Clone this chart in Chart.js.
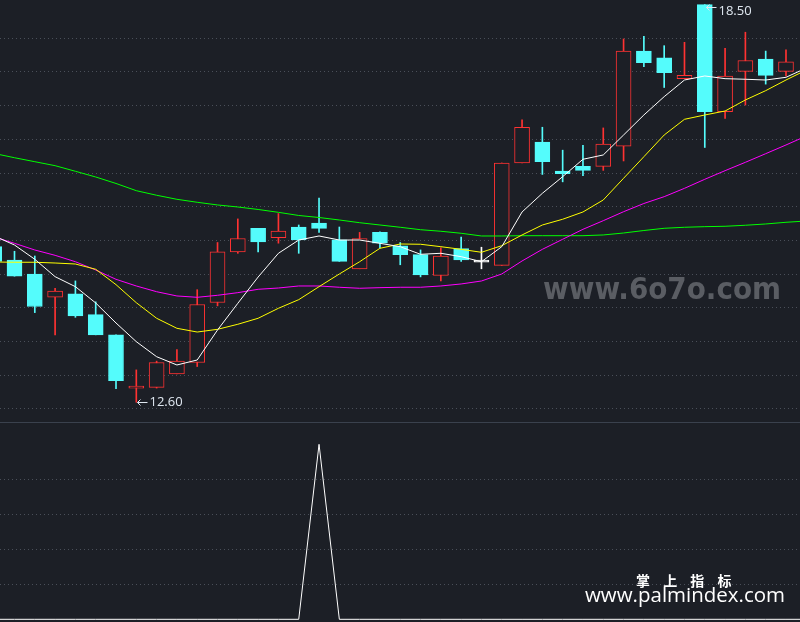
<!DOCTYPE html>
<html><head><meta charset="utf-8">
<script src="https://cdn.jsdelivr.net/npm/chart.js@4.4.1/dist/chart.umd.min.js"></script>
<style>
html,body{margin:0;padding:0;background:#1c1f26;width:800px;height:622px;overflow:hidden;}
#top{position:absolute;left:0;top:0;}
#bot{position:absolute;left:0;top:423px;}
#sep{position:absolute;left:0;top:422px;width:800px;height:1px;background:#3a414d;}
.wm{position:absolute;white-space:nowrap;transform-origin:0 0;}
#wm1{left:543px;top:274px;font:bold 30px "DejaVu Sans",sans-serif;line-height:30px;color:#5a5d63;}
#wm2{left:636px;top:573px;font:bold 14px "Noto Sans CJK SC",sans-serif;line-height:14px;color:#ffffff;letter-spacing:5px;}
#wm3{left:585px;top:585px;font:20px "Open Sans",sans-serif;line-height:20px;color:#ffffff;}
</style></head><body>
<canvas id="top" width="800" height="422"></canvas>
<div id="sep"></div>
<canvas id="bot" width="800" height="199"></canvas>
<div class="wm" id="wm1">www.6o7o.com</div>
<div class="wm" id="wm2">掌 上 指 标</div>
<div class="wm" id="wm3">www.palmindex.com</div>
<script>
// ---- data ----
const candleIdx = [-1,0,1,2,3,4,5,6,7,8,9,10,11,12,13,14,15,16,17,18,19,20,21,22,23,24,25,26,27,28,29,30,31,32,33,34,35,36,37,38];
const openP  = [14.91,14.71,14.50,14.16,14.21,13.90,13.60,12.81,12.82,13.02,13.19,14.08,14.83,15.18,15.04,15.20,15.26,15.01,14.58,15.12,14.92,14.79,14.48,14.88,14.68,14.63,16.15,16.46,16.03,16.10,16.10,16.40,17.81,17.71,17.40,18.50,16.91,17.51,17.69,17.51];
const highP  = [14.91,14.84,14.77,14.29,14.40,14.09,13.60,13.08,13.21,13.38,14.27,14.97,15.32,15.18,15.40,15.23,15.63,15.20,15.12,15.13,14.97,14.86,14.89,15.05,14.90,16.15,16.79,16.68,16.34,16.41,16.67,17.99,18.03,17.89,17.94,18.50,17.85,18.09,17.81,17.83];
const lowP   = [14.69,14.47,13.93,13.60,13.86,13.60,12.80,12.60,12.81,13.02,13.13,14.03,14.81,14.83,14.96,14.81,15.12,14.69,14.58,14.89,14.64,14.46,14.40,14.69,14.58,14.63,16.15,15.98,15.87,15.96,16.04,16.18,17.58,17.27,17.40,16.38,16.81,17.01,17.32,17.44];
const closeP = [14.69,14.47,14.02,14.25,13.88,13.60,12.92,12.83,13.19,13.21,14.05,14.83,15.03,14.98,15.14,15.01,15.18,14.69,15.03,14.96,14.79,14.49,14.77,14.71,14.68,16.15,16.68,16.17,15.99,16.04,16.43,17.81,17.64,17.49,17.45,16.91,17.44,17.67,17.45,17.65];

const lineIdx = [-1,0,1,2,3,4,5,6,7,8,9,10,11,12,13,14,15,16,17,18,19,20,21,22,23,24,25,26,27,28,29,30,31,32,33,34,35,36,37,38,39];
const ma5  = [15.067,14.933,14.721,14.463,14.315,14.073,13.776,13.499,13.276,13.153,13.227,13.672,14.068,14.458,14.810,15.007,15.067,15.007,15.007,14.958,14.908,14.795,14.810,14.760,14.685,14.908,15.423,15.700,15.947,16.205,16.269,16.565,16.862,17.134,17.381,17.441,17.401,17.392,17.381,17.421,17.559];
const ma10 = [14.681,14.677,14.677,14.666,14.651,14.573,14.345,14.077,13.846,13.697,13.642,13.682,13.757,13.846,13.994,14.122,14.315,14.503,14.685,14.884,14.948,14.944,14.908,14.869,14.825,14.923,15.082,15.230,15.315,15.423,15.601,15.923,16.243,16.565,16.798,16.862,16.921,17.085,17.223,17.381,17.530];
const ma20 = [15.052,14.958,14.859,14.780,14.685,14.562,14.424,14.325,14.240,14.177,14.157,14.187,14.226,14.276,14.295,14.325,14.325,14.306,14.291,14.300,14.306,14.306,14.325,14.355,14.399,14.503,14.696,14.869,15.018,15.166,15.294,15.427,15.549,15.650,15.774,15.908,16.036,16.160,16.288,16.417,16.550];
const ma60 = [16.291,16.228,16.169,16.110,16.027,15.942,15.846,15.739,15.671,15.611,15.567,15.527,15.497,15.460,15.418,15.371,15.341,15.304,15.264,15.230,15.196,15.160,15.137,15.107,15.067,15.067,15.071,15.071,15.071,15.071,15.082,15.111,15.148,15.181,15.196,15.205,15.211,15.226,15.245,15.270,15.289];

const signal = [0,0,0,0,0,0,0,0,0,0,0,0,0,0,0,0,5,0,0,0,0,0,0,0,0,0,0,0,0,0,0,0,0,0,0,0,0,0,0,0,0];

const topTicks = [12.5,13.0,13.5,14.0,14.5,15.0,15.5,16.0,16.5,17.0,17.5,18.0];
const botTicks = [1,2,3,4];

const extremeIdx  = [6, 34];
const extremeVal  = [12.60, 18.50];
const extremeText = ['12.60', '18.50'];

// ---- styling ----
const BG = '#1c1f26', RED = '#ff3232', CYAN = '#54fcfc', WHITE = '#ffffff';
const GRID = '#4a4f59';
const candleColor = openP.map((o,k)=> closeP[k] > o ? RED : (closeP[k] < o ? CYAN : WHITE));
const bodyFill = candleColor.map(c => c === RED ? BG : c);

const pts = (xs, ys) => xs.map((x,k)=>({x:x, y:ys[k]}));

const xScale = {type:'linear', min:-0.714, max:38.69, display:false, offset:false, grid:{offset:false}};

function yScale(min, max, ticks){
  return {
    type:'linear', min:min, max:max, display:true,
    ticks:{display:false},
    grid:{color:GRID, lineWidth:1, drawTicks:false},
    border:{display:false, dash:[1,3]},
    afterBuildTicks: s => { s.ticks = ticks.map(v=>({value:v})); },
    afterFit: s => { s.width = 0; }
  };
}

const hiloPlugin = {
  id:'hilo',
  afterDatasetsDraw(chart){
    const {ctx, scales:{x, y}} = chart;
    ctx.save();
    ctx.font = '13px "Open Sans", sans-serif';
    ctx.fillStyle = '#dfe7f0';
    ctx.strokeStyle = '#dfe7f0';
    ctx.lineWidth = 1;
    extremeIdx.forEach((ix, k) => {
      const px = Math.round(x.getPixelForValue(ix)) + 0.5;
      let py = y.getPixelForValue(extremeVal[k]);
      let ty = py;
      if (py < 10) { py = py + 2; ty = py + 4.5; }
      py = Math.round(py) + 0.5;
      ctx.beginPath();
      ctx.moveTo(px + 1, py); ctx.lineTo(px + 11, py);
      ctx.moveTo(px + 4, py - 3); ctx.lineTo(px + 1, py); ctx.lineTo(px + 4, py + 3);
      ctx.stroke();
      ctx.textBaseline = 'middle';
      ctx.textAlign = 'left';
      ctx.fillText(extremeText[k], px + 13, ty + 0.5);
    });
    ctx.restore();
  }
};

new Chart(document.getElementById('top'), {
  data:{
    datasets:[
      {type:'bar', data:candleIdx.map((i,k)=>({x:i, y:[lowP[k], highP[k]]})),
       backgroundColor:candleColor, barThickness:1, grouped:false, order:5},
      {type:'bar', data:candleIdx.map((i,k)=>({x:i, y:[openP[k], closeP[k]]})),
       backgroundColor:bodyFill, borderColor:candleColor, borderWidth:1, borderSkipped:false,
       barThickness:15, minBarLength:2, grouped:false, order:4},
      {type:'line', data:pts(lineIdx, ma60), borderColor:'#00ff00', borderWidth:1, pointRadius:0, tension:0, order:3},
      {type:'line', data:pts(lineIdx, ma20), borderColor:'#ff00ff', borderWidth:1, pointRadius:0, tension:0, order:2},
      {type:'line', data:pts(lineIdx, ma10), borderColor:'#ffff00', borderWidth:1, pointRadius:0, tension:0, order:1},
      {type:'line', data:pts(lineIdx, ma5),  borderColor:'#ffffff', borderWidth:1, pointRadius:0, tension:0, order:0}
    ]
  },
  options:{
    responsive:false, animation:false, devicePixelRatio:1,
    layout:{padding:0},
    plugins:{legend:{display:false}, tooltip:{enabled:false}},
    scales:{x:xScale, y:yScale(12.307, 18.568, topTicks)}
  },
  plugins:[hiloPlugin]
});

new Chart(document.getElementById('bot'), {
  type:'line',
  data:{datasets:[{data:pts(lineIdx, signal), borderColor:'#ffffff', borderWidth:1, pointRadius:0, tension:0}]},
  options:{
    responsive:false, animation:false, devicePixelRatio:1,
    layout:{padding:0},
    plugins:{legend:{display:false}, tooltip:{enabled:false}},
    scales:{x:xScale, y:yScale(-0.077, 5.609, botTicks)}
  }
});

// fit watermark widths
function fitWidth(id, w){
  const el = document.getElementById(id);
  const cur = el.getBoundingClientRect().width;
  if (cur > 0) el.style.transform = 'scaleX(' + (w / cur) + ')';
}
fitWidth('wm1', 238);
fitWidth('wm3', 200);
</script>
</body></html>
